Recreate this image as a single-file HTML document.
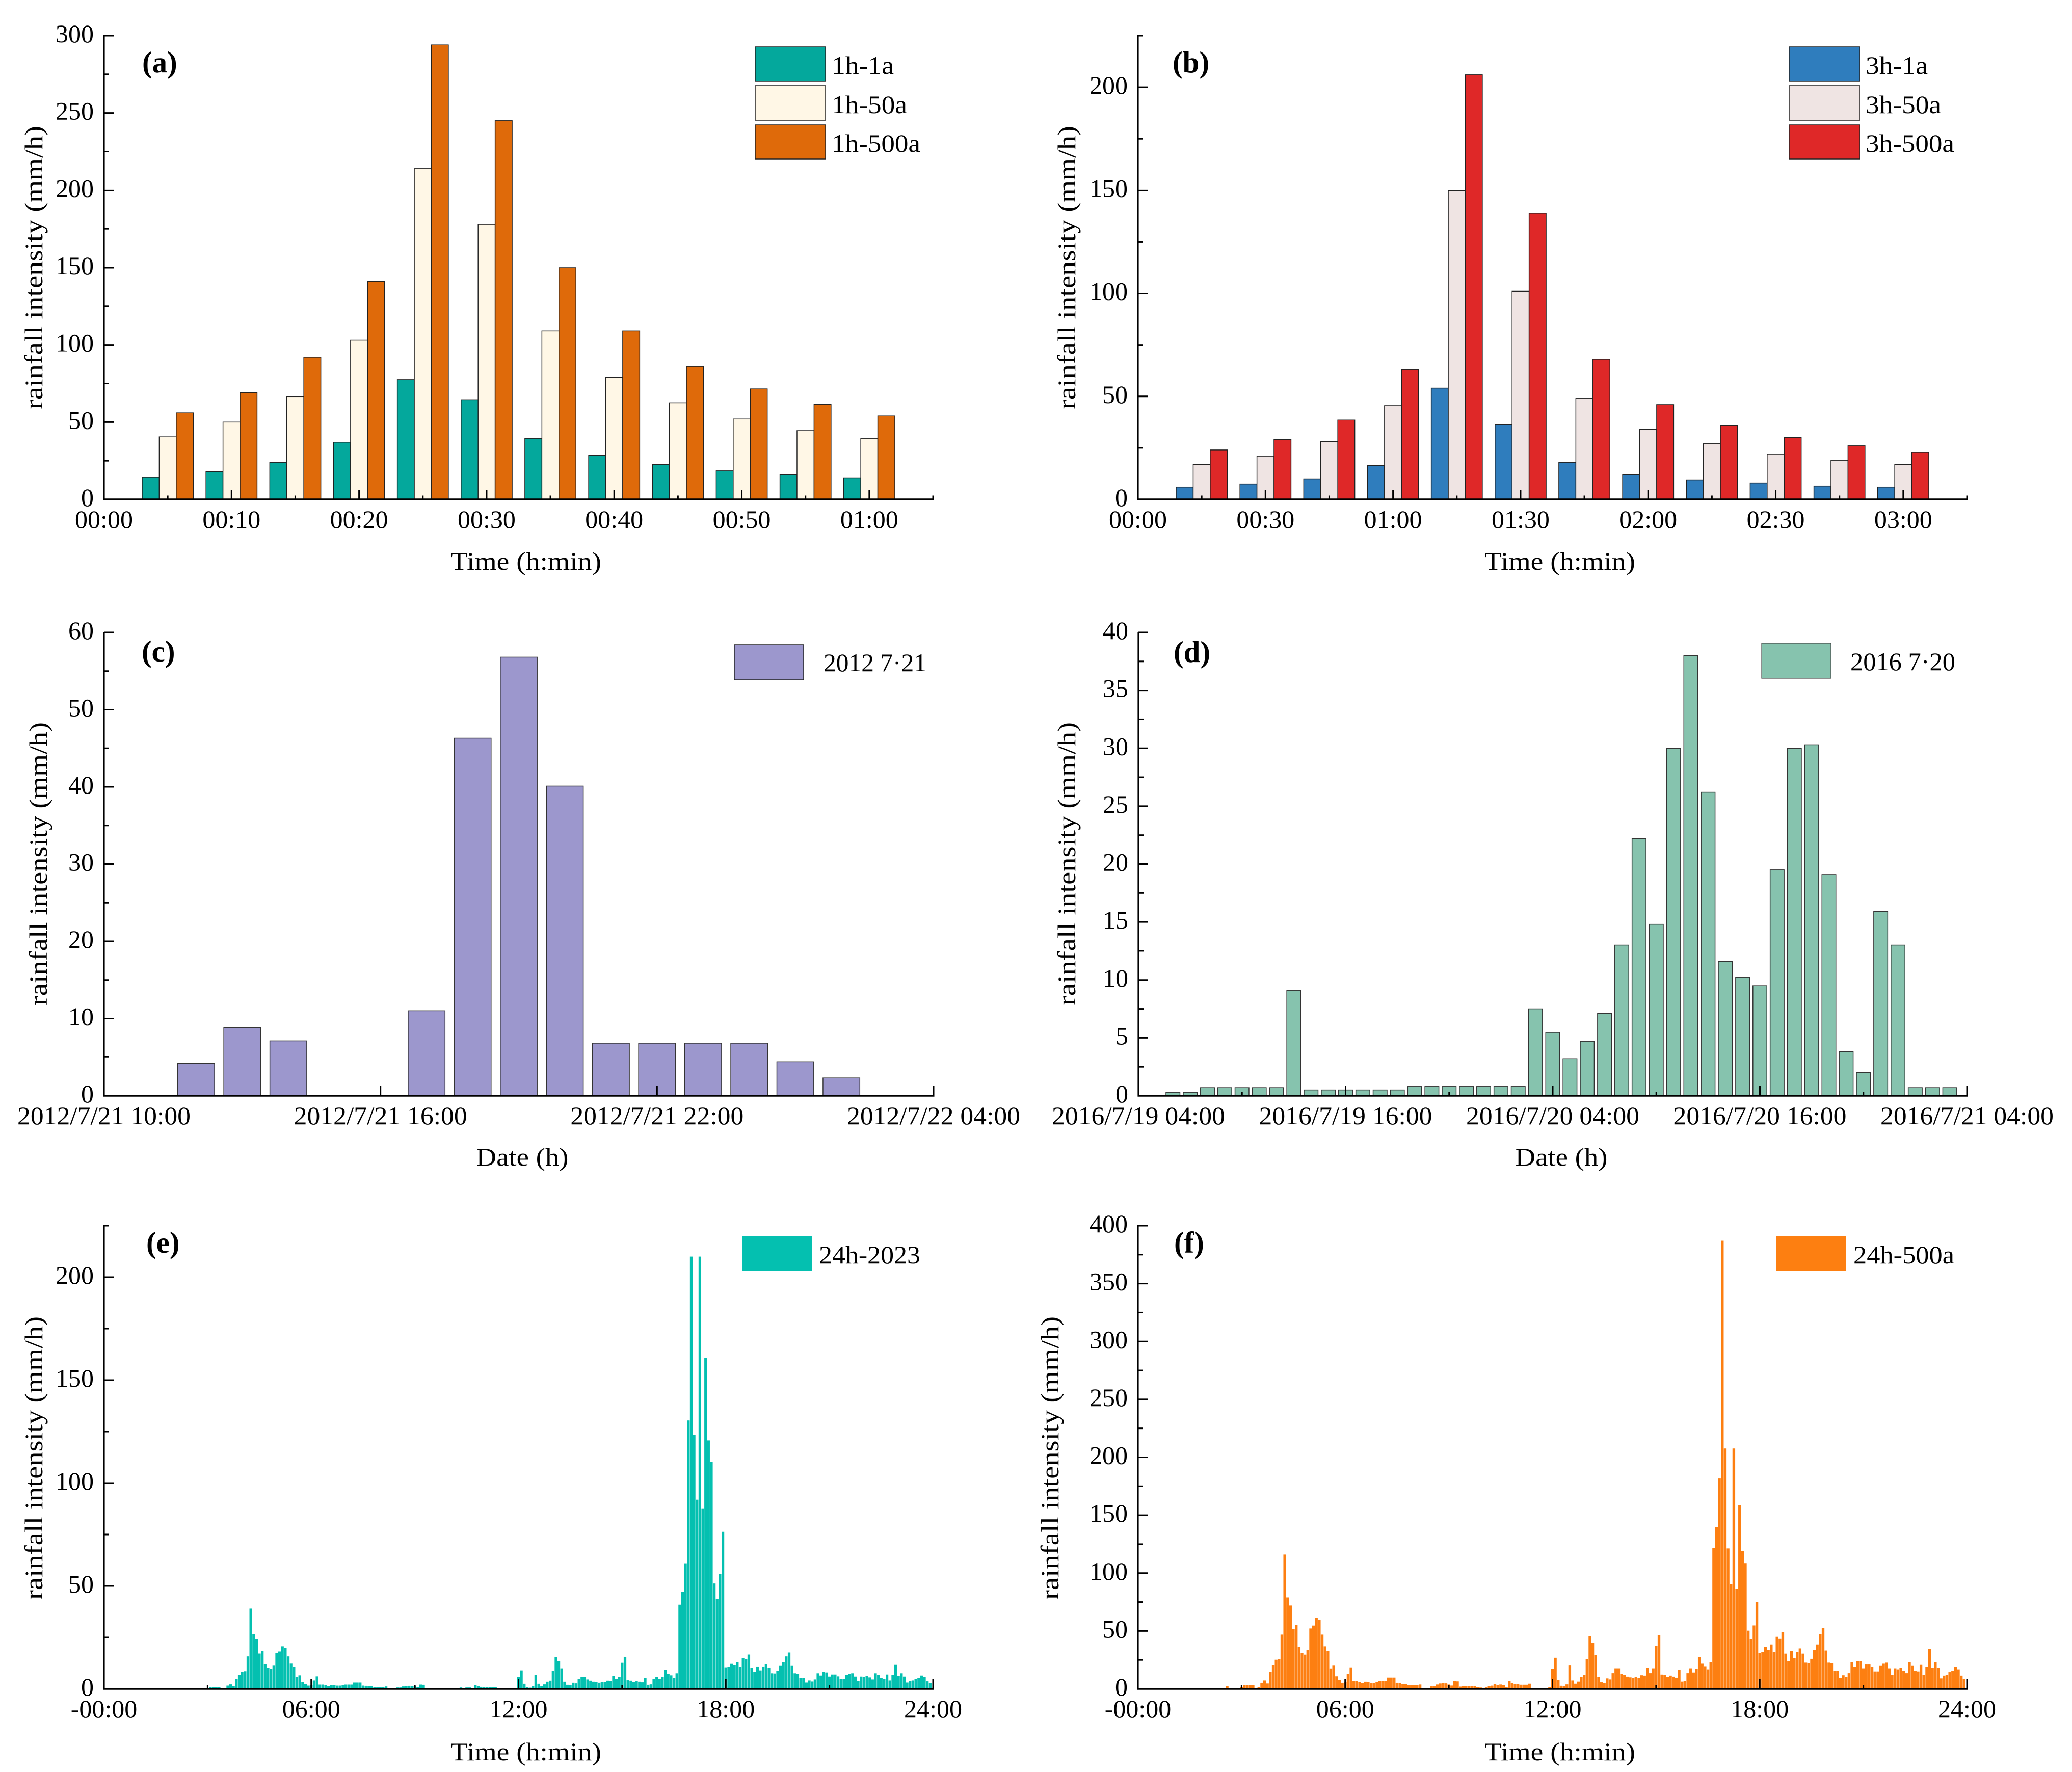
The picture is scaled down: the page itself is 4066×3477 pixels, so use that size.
<!DOCTYPE html>
<html lang="en">
<head>
<meta charset="utf-8">
<title>Rainfall intensity charts</title>
<style>
html,body{margin:0;padding:0;background:#fff;}
svg{display:block;font-family:"Liberation Serif",serif;fill:#000;}
text{font-size:50px;}
.panel-label{font-size:59px;font-weight:bold;}
</style>
</head>
<body>
<svg id="figure" xmlns="http://www.w3.org/2000/svg" width="4066" height="3477" viewBox="0 0 4066 3477">
<rect x="0" y="0" width="4066" height="3477" fill="#fff"/>

<g id="panel-a">
  <text class="panel-label" x="279" y="142">(a)</text>
  <text x="83" y="525" text-anchor="middle" textLength="556" lengthAdjust="spacingAndGlyphs" transform="rotate(-90 83 525)">rainfall intensity (mm/h)</text>
  <text x="1032" y="1118" text-anchor="middle" textLength="296" lengthAdjust="spacingAndGlyphs">Time (h:min)</text>
  <rect x="1482" y="92" width="138" height="67" fill="#04A89C" stroke="#222" stroke-width="1.5"/>
  <rect x="1482" y="168" width="138" height="68" fill="#FFF7E6" stroke="#222" stroke-width="1.5"/>
  <rect x="1482" y="245" width="138" height="67" fill="#DF6A0A" stroke="#222" stroke-width="1.5"/>
  <text x="1632" y="145" textLength="122" lengthAdjust="spacingAndGlyphs">1h-1a</text>
  <text x="1632" y="222" textLength="148" lengthAdjust="spacingAndGlyphs">1h-50a</text>
  <text x="1632" y="298" textLength="174" lengthAdjust="spacingAndGlyphs">1h-500a</text>
</g>

<g id="panel-b">
  <text class="panel-label" x="2301" y="142">(b)</text>
  <text x="2110" y="525" text-anchor="middle" textLength="556" lengthAdjust="spacingAndGlyphs" transform="rotate(-90 2110 525)">rainfall intensity (mm/h)</text>
  <text x="3061" y="1118" text-anchor="middle" textLength="296" lengthAdjust="spacingAndGlyphs">Time (h:min)</text>
  <rect x="3511" y="92" width="138" height="67" fill="#2F7DBD" stroke="#222" stroke-width="1.5"/>
  <rect x="3511" y="168" width="138" height="68" fill="#EFE4E3" stroke="#222" stroke-width="1.5"/>
  <rect x="3511" y="245" width="138" height="67" fill="#DF2828" stroke="#222" stroke-width="1.5"/>
  <text x="3661" y="145" textLength="122" lengthAdjust="spacingAndGlyphs">3h-1a</text>
  <text x="3661" y="222" textLength="148" lengthAdjust="spacingAndGlyphs">3h-50a</text>
  <text x="3661" y="298" textLength="174" lengthAdjust="spacingAndGlyphs">3h-500a</text>
</g>

<g id="panel-c">
  <text class="panel-label" x="278" y="1298">(c)</text>
  <text x="92" y="1695" text-anchor="middle" textLength="556" lengthAdjust="spacingAndGlyphs" transform="rotate(-90 92 1695)">rainfall intensity (mm/h)</text>
  <text x="1025" y="2287" text-anchor="middle" textLength="181" lengthAdjust="spacingAndGlyphs">Date (h)</text>
  <rect x="1441" y="1265" width="136" height="69" fill="#9C97CD" stroke="#222" stroke-width="1.5"/>
  <text x="1616" y="1317" textLength="202" lengthAdjust="spacingAndGlyphs">2012 7·21</text>
</g>

<g id="panel-d">
  <text class="panel-label" x="2303" y="1299">(d)</text>
  <text x="2110" y="1695" text-anchor="middle" textLength="556" lengthAdjust="spacingAndGlyphs" transform="rotate(-90 2110 1695)">rainfall intensity (mm/h)</text>
  <text x="3064" y="2287" text-anchor="middle" textLength="181" lengthAdjust="spacingAndGlyphs">Date (h)</text>
  <rect x="3457" y="1262" width="136" height="69" fill="#86C3AE" stroke="#444" stroke-width="1.2"/>
  <text x="3631" y="1315" textLength="206" lengthAdjust="spacingAndGlyphs">2016 7·20</text>
</g>

<g id="panel-e">
  <text class="panel-label" x="287" y="2458">(e)</text>
  <text x="83" y="2861" text-anchor="middle" textLength="556" lengthAdjust="spacingAndGlyphs" transform="rotate(-90 83 2861)">rainfall intensity (mm/h)</text>
  <text x="1032" y="3454" text-anchor="middle" textLength="296" lengthAdjust="spacingAndGlyphs">Time (h:min)</text>
  <rect x="1457" y="2426" width="137" height="68" fill="#04C0B0"/>
  <text x="1607" y="2479" textLength="199" lengthAdjust="spacingAndGlyphs">24h-2023</text>
</g>

<g id="panel-f">
  <text class="panel-label" x="2304" y="2458">(f)</text>
  <text x="2077" y="2861" text-anchor="middle" textLength="556" lengthAdjust="spacingAndGlyphs" transform="rotate(-90 2077 2861)">rainfall intensity (mm/h)</text>
  <text x="3061" y="3454" text-anchor="middle" textLength="296" lengthAdjust="spacingAndGlyphs">Time (h:min)</text>
  <rect x="3486" y="2426" width="137" height="68" fill="#FD7F11"/>
  <text x="3637" y="2479" textLength="198" lengthAdjust="spacingAndGlyphs">24h-500a</text>
</g>
</svg>

<script>
/* ---------- chart a ---------- */
const aCategories = [5,10,15,20,25,30,35,40,45,50,55,60];
const a1h1a = [14.5,18,24,37,77.5,64.5,39.5,28.5,22.5,18.5,16,14];
const a1h50a = [40.5,50,66.5,103,214,178,109,79,62.5,52,44.5,39.5];
const a1h500a = [56,69,92,141,294,245,150,109,86,71.5,61.5,54];
const aXTicks = [0,10,20,30,40,50,60];
const aXTickLabels = ['00:00','00:10','00:20','00:30','00:40','00:50','01:00'];
const aXMinor = [5,15,25,35,45,55,65];
const aYTicks = [0,50,100,150,200,250,300];
const aYTickLabels = ['0','50','100','150','200','250','300'];
const aYMinor = [25,75,125,175,225,275];

/* ---------- chart b ---------- */
const bCategories = [15,30,45,60,75,90,105,120,135,150,165,180];
const b3h1a = [6,7.5,10,16.5,54,36.5,18,12,9.5,8,6.5,6];
const b3h50a = [17,21,28,45.5,150,101,49,34,27,22,19,17];
const b3h500a = [24,29,38.5,63,206,139,68,46,36,30,26,23];
const bXTicks = [0,30,60,90,120,150,180];
const bXTickLabels = ['00:00','00:30','01:00','01:30','02:00','02:30','03:00'];
const bXMinor = [15,45,75,105,135,165,195];
const bYTicks = [0,50,100,150,200];
const bYTickLabels = ['0','50','100','150','200'];
const bYMinor = [25,75,125,175,225];

/* ---------- chart c (hours after 2012/7/21 10:00) ---------- */
const cCategories = [2,3,4,5,6,7,8,9,10,11,12,13,14,15,16];
const cValues = [4.2,8.8,7.1,0,0,11,46.3,56.8,40.1,6.8,6.8,6.8,6.8,4.4,2.3];
const cXTicks = [0,6,12,18];
const cXTickLabels = ['2012/7/21 10:00','2012/7/21 16:00','2012/7/21 22:00','2012/7/22 04:00'];
const cXMinor = [];
const cYTicks = [0,10,20,30,40,50,60];
const cYTickLabels = ['0','10','20','30','40','50','60'];
const cYMinor = [5,15,25,35,45,55];

/* ---------- chart d (hours after 2016/7/19 04:00) ---------- */
const dFirstHour = 2;
const dValues = [0.3,0.3,0.7,0.7,0.7,0.7,0.7,9.1,0.5,0.5,0.5,0.5,0.5,0.5,0.8,0.8,0.8,0.8,0.8,0.8,0.8,
  7.5,5.5,3.2,4.7,7.1,13,22.2,14.8,30,38,26.2,11.6,10.2,9.5,19.5,30,30.3,19.1,3.8,2.0,15.9,13,0.7,0.7,0.7];
const dXTicks = [0,12,24,36,48];
const dXTickLabels = ['2016/7/19 04:00','2016/7/19 16:00','2016/7/20 04:00','2016/7/20 16:00','2016/7/21 04:00'];
const dXMinor = [6,18,30,42];
const dYTicks = [0,5,10,15,20,25,30,35,40];
const dYTickLabels = ['0','5','10','15','20','25','30','35','40'];
const dYMinor = [2.5,7.5,12.5,17.5,22.5,27.5,32.5,37.5];

/* ---------- chart e (5-minute steps, 12 values per hour) ---------- */
const eValues = [
0,0,0,0,0,0,0,0,0,0,0,0,
0,0,0,0,0,0,0,0,0,0,0,0,
0,0,0,0,0,0,0,.4,0,0,.15,0,
.3,.9,.9,.9,.9,0,.3,1.6,2.2,1.4,4.7,6.7,
8.3,8.6,15.8,39,26.5,24.2,17.2,18.5,12.1,10.3,9.8,11.3,
17.5,18.2,20.7,20,15.8,12.3,10.8,5.9,6.6,3.4,2.4,1.6,
1.9,4.1,6.1,2.1,2.1,1.9,1.4,1.9,1.9,1.6,1.6,1.9,
2.1,2.1,2.1,3.1,3.1,3.1,1.6,1.5,1.3,1.3,.9,.9,
.9,.9,1.2,.05,.05,.2,.7,.7,1.2,1.4,1.5,1.4,
1.4,.8,2.1,2,.4,.4,.4,.4,.4,.4,.3,.2,
.1,.1,.3,.4,.7,.4,.7,.7,.1,1.9,1.3,1,
.9,.9,.8,.8,.9,.1,.1,.05,0,0,0,0,
5.8,9,2.5,.8,.6,1.3,6.8,2.5,1.3,2.2,3.5,4,
8.7,15.4,13.4,10,3.5,2,1.9,3,2.7,4.7,5.9,5.9,
4.6,4,3.5,3.4,3,3.4,3.4,4,3.9,6.3,4.7,5.9,
12.7,15.6,4.2,4,3.4,3.7,3.5,3.2,5.4,2,2.2,4.7,
5.9,4.9,5.9,9.3,7.3,6.6,5.2,7.6,40.9,47.1,61,130.4,
210,123.4,91.9,210,87.7,160.8,120.7,110.2,51.2,43.8,55.7,76.3,
10.5,10.7,12.2,11.4,12.9,10.7,15.1,14.5,16.7,10.2,8.2,10.9,
9,10.9,11.9,10.4,7.6,7.5,8.7,11.2,12.9,15.8,17.7,11.2,
7.6,7.3,5.3,5.3,3.1,4.1,3.6,4.6,7.6,6.5,8.2,8,
6,7,7,6.1,4.9,4.9,6.8,7.3,7.6,6,3.9,6,
5.8,6.3,5.6,4.6,7.6,6.8,5.3,4.9,7,4.1,6.8,11.7,
6.3,7.6,6,3.1,3.9,4.1,4.8,5.3,6.5,5.8,3.7,2.9];
const eXTicks = [0,6,12,18,24];
const eXTickLabels = ['-00:00','06:00','12:00','18:00','24:00'];
const eXMinor = [3,9,15,21];
const eYTicks = [0,50,100,150,200];
const eYTickLabels = ['0','50','100','150','200'];
const eYMinor = [25,75,125,175,225];

/* ---------- chart f (5-minute steps, 12 values per hour) ---------- */
const fValues = [
0,0,0,0,0,0,0,0,0,0,0,0,
0,0,0,0,0,0,0,0,0,0,0,0,
0,0,0,0,0,0,0,2.2,.2,0,.7,0,
1.5,3.4,3.4,3.4,3.5,0,1.6,5.3,7.3,4.7,14.7,20.4,
25.2,25.7,46.9,116,79,72,51.8,55.3,36.2,30.9,29.6,33.7,
52.2,54.7,61.6,59.4,46.9,36.8,32.6,17.7,20.1,10.9,7.9,5.3,
6,12.8,18.6,6.6,6.9,5.9,5.1,6.2,6,5.1,5.1,6,
6.9,6.9,6.9,9.8,9.8,9.8,5.3,5.1,4.3,4.3,3.1,3.1,
3.1,3.1,3.8,.7,.7,.7,2.5,2.5,3.8,4.7,5.1,4.8,
3.8,2.9,6.9,6.5,2,2.5,2.5,2.5,2.5,2.3,1.5,1.2,
.9,1.3,2.5,2.8,4,3.2,3.8,3.5,1.3,7,5,4.2,
4.2,3.6,3.6,3.6,4.5,.3,.3,.2,0,0,0,1.5,
17.2,26.9,7.9,2.7,2.4,3.9,20.2,7.3,4.5,6.3,10.3,12.1,
25.7,45.6,39.6,29.3,10.3,5.7,5.1,9.1,8.2,13.6,17.8,17.8,
13,12.1,10.6,10,9.4,10.3,9.4,11.8,11.5,18.1,13.6,17.8,
37.2,46.5,12.4,12.1,10.3,11.5,10.6,9.7,16.3,6.3,7,13.6,
17.8,14.2,17.2,27.5,21.8,19.6,16.9,23,121.6,139.6,181.7,387,
207.6,121.3,90.6,207.6,86.5,158.6,119,108.6,50.3,43,54.8,74.9,
31.2,32,36.3,33.8,38.4,31.7,45,43.2,49.2,30.5,24.2,32.6,
26.6,31.7,35,30.5,22.7,22,26,33.5,38.4,47.1,52.6,33.2,
22.7,22.4,15.4,15.4,9.4,11.8,10.3,13.6,23,19.3,24.2,23.9,
17.8,21.1,21.1,19,15.1,15.1,19.9,21.8,22.7,17.8,12.1,17.8,
16.9,18.4,15.4,13.6,23,19.9,15.4,15.1,20.8,12.1,19.3,34.4,
18.4,23.3,18.1,9.1,11.5,12.1,14.5,15.7,19.3,16.9,11.5,8.8];
const fXTicks = [0,6,12,18,24];
const fXTickLabels = ['-00:00','06:00','12:00','18:00','24:00'];
const fXMinor = [3,9,15,21];
const fYTicks = [0,50,100,150,200,250,300,350,400];
const fYTickLabels = ['0','50','100','150','200','250','300','350','400'];
const fYMinor = [25,75,125,175,225,275,325,375];

/* ---------- drawing helpers ---------- */
const NS = 'http://www.w3.org/2000/svg';

function shape(tag, parent, props) {
  const n = document.createElementNS(NS, tag);
  for (const k in props) n.setAttribute(k, props[k]);
  parent.appendChild(n);
  return n;
}

function linear(d0, d1, r0, r1) {
  return function (v) { return r0 + (v - d0) * (r1 - r0) / (d1 - d0); };
}

function drawBar(parent, name, cx, width, yScale, value, fill, stroke) {
  const top = yScale(value);
  const base = yScale(0);
  const props = { x: cx - width / 2, y: top, width: width, height: base - top, fill: fill };
  if (stroke) {
    props.stroke = stroke;
    props['stroke-width'] = 1.5;
  }
  const bar = shape('rect', parent, props);
  
  
}

function drawAxes(parent, key, xScale, yScale, cfg) {
  const x0 = cfg.left, x1 = cfg.right, y0 = cfg.bottom, y1 = cfg.top;

  cfg.yMinor.forEach(function (v) {
    const t = shape('line', parent, { x1: x0, x2: x0 + 10, y1: yScale(v), y2: yScale(v), stroke: '#000', 'stroke-width': 3 });
    
    
  });
  cfg.yTicks.forEach(function (v, i) {
    const t = shape('line', parent, { x1: x0, x2: x0 + 19, y1: yScale(v), y2: yScale(v), stroke: '#000', 'stroke-width': 3 });
    
    
    const lab = shape('text', parent, { x: x0 - 20, y: yScale(v) + 13, 'text-anchor': 'end' });
    lab.textContent = cfg.yLabels[i];
    
    
  });
  cfg.xMinor.forEach(function (v) {
    const t = shape('line', parent, { x1: xScale(v), x2: xScale(v), y1: y0, y2: y0 - 7.5, stroke: '#000', 'stroke-width': 3 });
    
    
  });
  cfg.xTicks.forEach(function (v, i) {
    const t = shape('line', parent, { x1: xScale(v), x2: xScale(v), y1: y0, y2: y0 - 19, stroke: '#000', 'stroke-width': 3 });
    
    
    const props = { x: xScale(v), y: y0 + 56, 'text-anchor': 'middle' };
    if (cfg.xLabelLength) {
      props.textLength = cfg.xLabelLength;
      props.lengthAdjust = 'spacingAndGlyphs';
    }
    const lab = shape('text', parent, props);
    lab.textContent = cfg.xLabels[i];
    
    
  });

  const ya = shape('line', parent, { x1: x0, x2: x0, y1: y1 - 1, y2: y0 + 1.5, stroke: '#000', 'stroke-width': 3.2 });
  
  
  const xa = shape('line', parent, { x1: x0 - 1.5, x2: x1 + 1.5, y1: y0, y2: y0, stroke: '#000', 'stroke-width': 3.4 });
  
  
}

function groupedBars(parent, key, categories, seriesList, colors, names, xScale, yScale, spacing) {
  const w = spacing * 0.267;
  seriesList.forEach(function (values, s) {
    values.forEach(function (v, i) {
      const cx = xScale(categories[i]) + (s - 1) * w;
      drawBar(parent, 'bar-' + names[s] + '-' + (i + 1), cx, w, yScale, v, colors[s], '#222');
    });
  });
}

/* chart a */
(function () {
  const p = document.getElementById('panel-a');
  const x = linear(0, 65, 204, 1831);
  const y = linear(0, 300, 980, 70);
  groupedBars(p, 'a', aCategories, [a1h1a, a1h50a, a1h500a], ['#04A89C', '#FFF7E6', '#DF6A0A'], ['1h-1a', '1h-50a', '1h-500a'], x, y, x(5) - x(0));
  drawAxes(p, 'a', x, y, { left: 204, right: 1831, bottom: 980, top: 70, xTicks: aXTicks, xLabels: aXTickLabels, xMinor: aXMinor, yTicks: aYTicks, yLabels: aYTickLabels, yMinor: aYMinor });
})();

/* chart b */
(function () {
  const p = document.getElementById('panel-b');
  const x = linear(0, 195, 2233, 3860);
  const y = linear(0, 225, 980, 70);
  groupedBars(p, 'b', bCategories, [b3h1a, b3h50a, b3h500a], ['#2F7DBD', '#EFE4E3', '#DF2828'], ['3h-1a', '3h-50a', '3h-500a'], x, y, x(15) - x(0));
  drawAxes(p, 'b', x, y, { left: 2233, right: 3860, bottom: 980, top: 70, xTicks: bXTicks, xLabels: bXTickLabels, xMinor: bXMinor, yTicks: bYTicks, yLabels: bYTickLabels, yMinor: bYMinor });
})();

/* chart c */
(function () {
  const p = document.getElementById('panel-c');
  const x = linear(0, 18, 204, 1832);
  const y = linear(0, 60, 2150, 1241);
  const w = (x(1) - x(0)) * 0.8;
  cValues.forEach(function (v, i) {
    if (v > 0) drawBar(p, 'bar-2012-' + (i + 1), x(cCategories[i]), w, y, v, '#9C97CD', '#333');
  });
  drawAxes(p, 'c', x, y, { left: 204, right: 1832, bottom: 2150, top: 1241, xTicks: cXTicks, xLabels: cXTickLabels, xMinor: cXMinor, yTicks: cYTicks, yLabels: cYTickLabels, yMinor: cYMinor, xLabelLength: 340 });
})();

/* chart d */
(function () {
  const p = document.getElementById('panel-d');
  const x = linear(0, 48, 2234, 3860);
  const y = linear(0, 40, 2150, 1241);
  const w = (x(1) - x(0)) * 0.81;
  dValues.forEach(function (v, i) {
    drawBar(p, 'bar-2016-' + (i + 1), x(dFirstHour + i), w, y, v, '#86C3AE', '#333');
  });
  drawAxes(p, 'd', x, y, { left: 2234, right: 3860, bottom: 2150, top: 1241, xTicks: dXTicks, xLabels: dXTickLabels, xMinor: dXMinor, yTicks: dYTicks, yLabels: dYTickLabels, yMinor: dYMinor, xLabelLength: 340 });
})();

/* chart e */
(function () {
  const p = document.getElementById('panel-e');
  const x = linear(0, 24, 204, 1831);
  const y = linear(0, 225, 3314, 2405);
  const w = (x(1) - x(0)) / 12 * 0.92;
  eValues.forEach(function (v, i) {
    if (v > 0) drawBar(p, 'bar-2023-' + i, x(i / 12), w, y, v, '#04C0B0', null);
  });
  drawAxes(p, 'e', x, y, { left: 204, right: 1831, bottom: 3314, top: 2405, xTicks: eXTicks, xLabels: eXTickLabels, xMinor: eXMinor, yTicks: eYTicks, yLabels: eYTickLabels, yMinor: eYMinor });
})();

/* chart f */
(function () {
  const p = document.getElementById('panel-f');
  const x = linear(0, 24, 2233, 3860);
  const y = linear(0, 400, 3314, 2405);
  const w = (x(1) - x(0)) / 12 * 0.94;
  fValues.forEach(function (v, i) {
    if (v > 0) drawBar(p, 'bar-500a-' + i, x(i / 12), w, y, v, '#FD7F11', null);
  });
  drawAxes(p, 'f', x, y, { left: 2233, right: 3860, bottom: 3314, top: 2405, xTicks: fXTicks, xLabels: fXTickLabels, xMinor: fXMinor, yTicks: fYTicks, yLabels: fYTickLabels, yMinor: fYMinor });
})();
</script>
</body>
</html>
